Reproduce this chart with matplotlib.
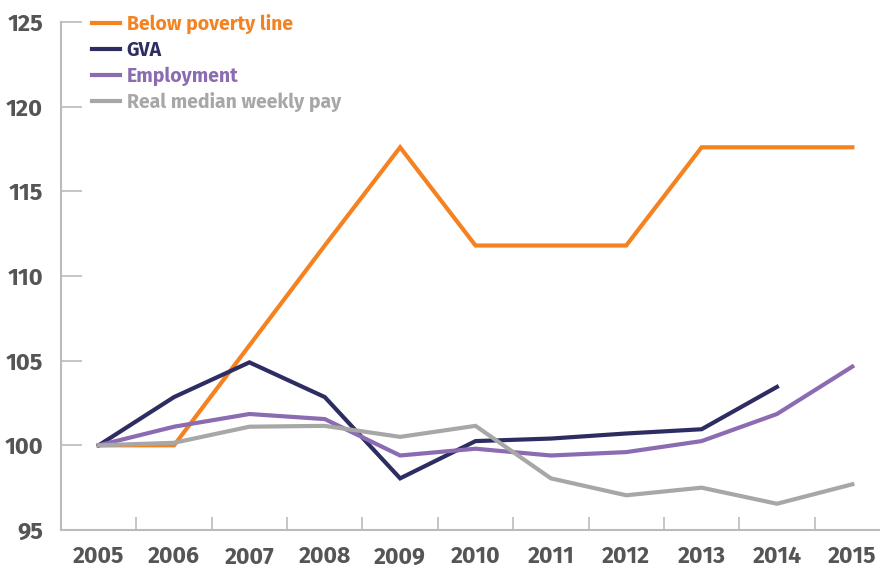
import matplotlib.pyplot as plt
import numpy as np

# Индексы (2005 = 100)
years = ['2005', '2006', '2007', '2008', '2009', '2010', '2011', '2012', '2013', '2014', '2015']
poverty = [100, 100, 105.9, 111.8, 117.6, 111.8, 111.8, 111.8, 117.6, 117.6, 117.6]
gva = [100, 102.85, 104.9, 102.85, 98.05, 100.25, 100.4, 100.7, 100.95, 103.45]
employment = [100, 101.1, 101.85, 101.55, 99.4, 99.8, 99.4, 99.6, 100.25, 101.85, 104.65]
median_pay = [100, 100.15, 101.1, 101.15, 100.5, 101.15, 98.05, 97.05, 97.5, 96.55, 97.7]

plt.rcParams['font.family'] = ['Fira Sans', 'Open Sans', 'DejaVu Sans']
plt.rcParams['font.weight'] = 'bold'

fig = plt.figure(figsize=(8.8, 5.68), dpi=100)
ax = fig.add_axes([61 / 880, 38 / 568, 829 / 880, 508 / 568])

x = np.arange(len(years))
ax.plot(x, poverty, color='#F58220', lw=3, label='Below poverty line', solid_joinstyle='miter')
ax.plot(x[:len(gva)], gva, color='#2E2D62', lw=3, label='GVA', solid_joinstyle='miter')
ax.plot(x, employment, color='#8B6BB1', lw=3, label='Employment', solid_joinstyle='miter')
ax.plot(x, median_pay, color='#A7A7A7', lw=3, label='Real median weekly pay', solid_joinstyle='miter')

ax.set_xlim(-0.5, 10.5)
ax.set_ylim(95, 125)

# Подписи лет по центру, засечки между годами
ax.set_xticks(x)
ax.set_xticklabels(years)
ax.set_xticks(x[:-1] + 0.5, minor=True)
ax.tick_params(axis='x', which='major', length=0, pad=11, labelsize=16.5, labelcolor='#555555')
ax.tick_params(axis='x', which='minor', direction='in', length=9.5, width=1.2, color='#BBBBBB')

ax.set_yticks(np.arange(95, 126, 5))
ax.tick_params(axis='y', direction='in', length=15, width=1.2, color='#BBBBBB',
               pad=13, labelsize=17, labelcolor='#555555')

for side in ['top', 'right']:
    ax.spines[side].set_visible(False)
for side in ['left', 'bottom']:
    ax.spines[side].set_color('#BBBBBB')
    ax.spines[side].set_linewidth(1.5)

leg = ax.legend(loc='upper left', bbox_to_anchor=(0.016, 1.05), frameon=False,
                labelcolor='linecolor', fontsize=14, handlelength=1.45,
                handletextpad=0.35, labelspacing=0.32)
for t in leg.get_texts():
    t.set_fontweight('bold')

plt.savefig('out.png', dpi=100)
plt.close()
